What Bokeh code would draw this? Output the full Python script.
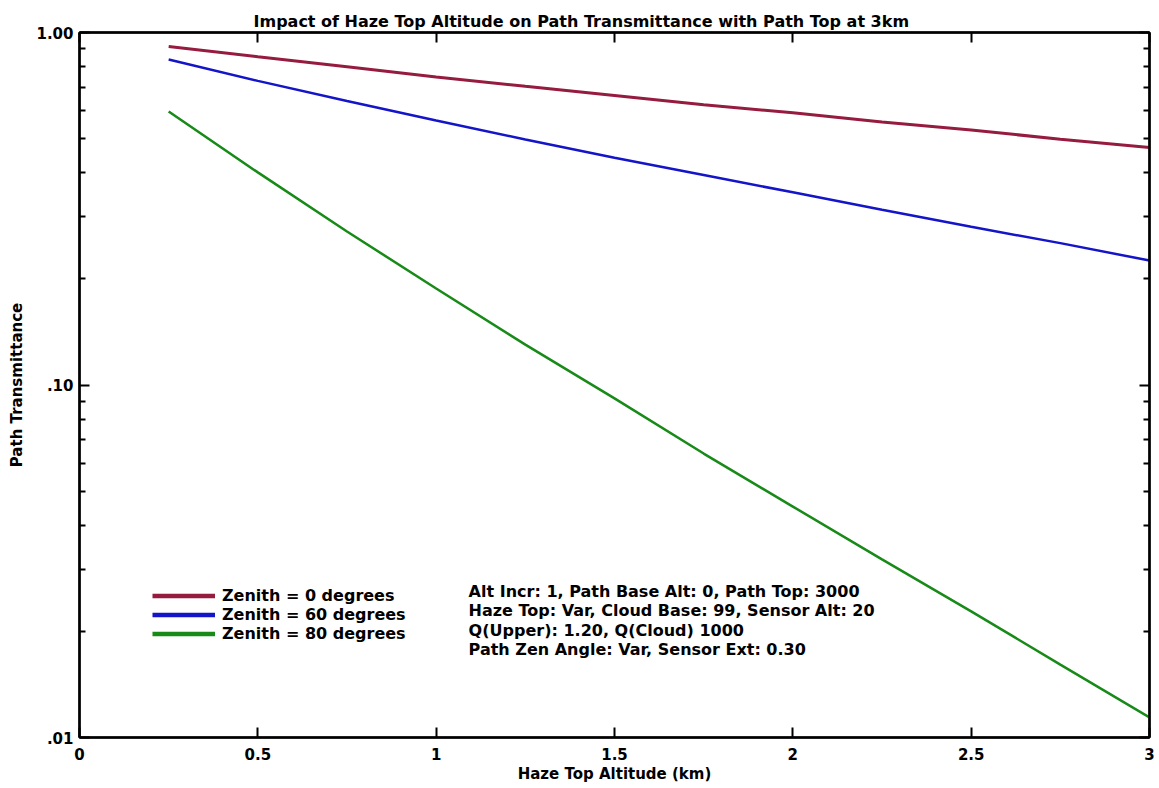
from bokeh.plotting import figure
from bokeh.models import (FixedTicker, LogAxis, LinearAxis, Legend, LegendItem,
                          Label, ColumnDataSource, Range1d)
from bokeh.embed import file_html
from bokeh.resources import INLINE

# Haze top altitude (km) and path transmittance for three zenith angles
haze_top_km = [0.25, 0.5, 0.75, 1.0, 1.25, 1.5, 1.75, 2.0, 2.25, 2.5, 2.75, 3.0]
trans_zen0 = [0.913, 0.854, 0.799, 0.748, 0.704, 0.663, 0.624, 0.592, 0.557, 0.529, 0.498, 0.472]
trans_zen60 = [0.838, 0.729, 0.639, 0.563, 0.497, 0.441, 0.394, 0.352, 0.314, 0.281, 0.2526, 0.2255]
trans_zen80 = [0.597, 0.401, 0.2726, 0.1878, 0.1302, 0.0916, 0.0639, 0.0452, 0.0320, 0.0228, 0.0161, 0.0114]

series_labels = ["Zenith = 0 degrees", "Zenith = 60 degrees", "Zenith = 80 degrees"]
series_colors = ["#951b3f", "#1414c8", "#188a18"]

x_ticks = [0, 0.5, 1, 1.5, 2, 2.5, 3]
x_tick_labels = ["0", "0.5", "1", "1.5", "2", "2.5", "3"]
y_ticks = [0.01, 0.1, 1.0]
y_tick_labels = [".01", ".10", "1.00"]
y_minor_ticks = [0.02, 0.03, 0.04, 0.05, 0.06, 0.07, 0.08, 0.09,
                 0.2, 0.3, 0.4, 0.5, 0.6, 0.7, 0.8, 0.9]

run_notes = [
    "Alt Incr: 1, Path Base Alt: 0, Path Top: 3000",
    "Haze Top: Var, Cloud Base: 99, Sensor Alt: 20",
    "Q(Upper): 1.20, Q(Cloud) 1000",
    "Path Zen Angle: Var, Sensor Ext: 0.30",
]

FONT = "DejaVu Sans"

p = figure(width=1159, height=788, x_range=Range1d(0, 3), y_range=Range1d(0.01, 1.0),
           y_axis_type="log", output_backend="svg", toolbar_location=None,
           min_border_left=79, min_border_right=10, min_border_top=32, min_border_bottom=51,
           title="Impact of Haze Top Altitude on Path Transmittance with Path Top at 3km")

p.title.align = "left"
p.title.vertical_align = "top"
p.title.text_font = FONT
p.title.text_font_size = "16px"
p.title.text_font_style = "bold"
p.title.text_color = "black"
p.title.offset = 174
p.title.standoff = 0

p.xgrid.visible = False
p.ygrid.visible = False
p.outline_line_color = "black"
p.outline_line_width = 2
p.background_fill_color = "white"
p.border_fill_color = "white"

xticker = FixedTicker(ticks=x_ticks)
yticker = FixedTicker(ticks=y_ticks, minor_ticks=y_minor_ticks)


def style_axis(ax):
    ax.axis_line_width = 2.5
    ax.axis_line_color = "black"
    ax.major_tick_in = 10
    ax.major_tick_out = 0
    ax.minor_tick_in = 6
    ax.minor_tick_out = 0
    ax.major_tick_line_width = 2
    ax.minor_tick_line_width = 2
    ax.major_tick_line_color = "black"
    ax.minor_tick_line_color = "black"
    ax.major_label_text_font = FONT
    ax.major_label_text_font_style = "bold"
    ax.major_label_text_font_size = "15px"
    ax.major_label_text_color = "black"
    ax.axis_label_text_font = FONT
    ax.axis_label_text_font_style = "bold"
    ax.axis_label_text_font_size = "15px"
    ax.axis_label_text_color = "black"


xa = p.xaxis[0]
xa.ticker = xticker
xa.major_label_overrides = {t: s for t, s in zip(x_ticks, x_tick_labels)}
xa.axis_label = "Haze Top Altitude (km)"
style_axis(xa)
xa.major_label_standoff = 10
xa.axis_label_standoff = 2

ya = p.yaxis[0]
ya.ticker = yticker
ya.major_label_overrides = {t: s for t, s in zip(y_ticks, y_tick_labels)}
ya.axis_label = "Path Transmittance"
style_axis(ya)
ya.major_label_standoff = 6
ya.axis_label_standoff = 7

# tick-only axes closing the frame on the top and right
top_axis = LinearAxis(ticker=xticker)
style_axis(top_axis)
top_axis.major_label_overrides = {t: "" for t in x_ticks}
top_axis.major_label_standoff = 0
p.add_layout(top_axis, "above")

right_axis = LogAxis(ticker=yticker)
style_axis(right_axis)
right_axis.major_label_overrides = {t: "" for t in y_ticks}
right_axis.major_label_standoff = 0
p.add_layout(right_axis, "right")

series = [trans_zen0, trans_zen60, trans_zen80]
widths = [3, 2.5, 2.5]
legend_items = []
for vals, label, color, w in zip(series, series_labels, series_colors, widths):
    src = ColumnDataSource(data=dict(x=haze_top_km, y=vals))
    p.line("x", "y", source=src, line_color=color, line_width=w)
    # thicker swatch used only for the legend key (no drawable points)
    key = p.line(x=[float("nan")], y=[float("nan")], line_color=color, line_width=4.5)
    legend_items.append(LegendItem(label=label, renderers=[key]))

legend = Legend(items=legend_items, location=(73, 94), orientation="vertical",
                glyph_width=63, glyph_height=19, label_height=19, label_standoff=7,
                spacing=0, padding=0, margin=0,
                border_line_color=None, background_fill_alpha=0,
                label_text_font=FONT, label_text_font_size="16px",
                label_text_font_style="bold", label_text_color="black")
p.add_layout(legend)

note_y = [0.02595, 0.0229, 0.0201, 0.0178]
for txt, yv in zip(run_notes, note_y):
    p.add_layout(Label(x=1.091, y=yv, text=txt, text_baseline="middle",
                       text_font=FONT, text_font_size="16px", text_font_style="bold",
                       text_color="black"))

open("out.html", "w").write(file_html(p, INLINE))
